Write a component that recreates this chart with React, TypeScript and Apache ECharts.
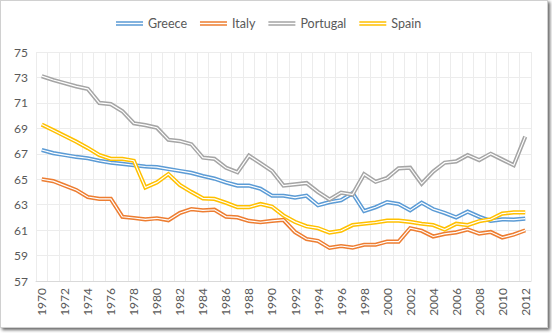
import React, { useEffect, useRef } from "react";
import * as echarts from "echarts";

const years: string[] = [];
for (let y = 1970; y <= 2012; y++) years.push(String(y));

const greece = [67.3, 67.05, 66.9, 66.75, 66.65, 66.45, 66.3, 66.2, 66.1, 66.0, 65.95, 65.8, 65.65, 65.5, 65.25, 65.05, 64.75, 64.5, 64.5, 64.25, 63.7, 63.7, 63.55, 63.7, 62.95, 63.2, 63.35, 63.9, 62.5, 62.8, 63.2, 63.05, 62.55, 63.15, 62.65, 62.35, 62.0, 62.45, 62.05, 61.72, 61.85, 61.82, 61.9];
const italy = [65.0, 64.85, 64.5, 64.15, 63.6, 63.45, 63.45, 62.05, 61.95, 61.85, 61.93, 61.78, 62.35, 62.65, 62.55, 62.6, 62.06, 62.0, 61.72, 61.62, 61.72, 61.8, 60.85, 60.3, 60.15, 59.6, 59.75, 59.62, 59.85, 59.85, 60.1, 60.1, 61.15, 60.95, 60.5, 60.7, 60.82, 61.05, 60.72, 60.85, 60.42, 60.65, 60.98];
const portugal = [73.1, 72.8, 72.55, 72.3, 72.1, 71.0, 70.9, 70.35, 69.4, 69.25, 69.05, 68.1, 68.0, 67.75, 66.7, 66.6, 65.9, 65.55, 66.85, 66.25, 65.65, 64.5, 64.6, 64.7, 64.0, 63.4, 63.95, 63.8, 65.4, 64.8, 65.1, 65.85, 65.9, 64.65, 65.6, 66.3, 66.4, 66.9, 66.5, 67.0, 66.55, 66.1, 68.35];
const spain = [69.3, 68.85, 68.4, 67.95, 67.45, 66.9, 66.6, 66.6, 66.45, 64.35, 64.75, 65.4, 64.55, 64.0, 63.5, 63.45, 63.15, 62.8, 62.8, 63.05, 62.85, 62.15, 61.65, 61.3, 61.15, 60.8, 60.95, 61.4, 61.5, 61.6, 61.75, 61.75, 61.65, 61.5, 61.4, 61.05, 61.5, 61.4, 61.7, 61.85, 62.3, 62.4, 62.4];

const seriesNames = ["Greece", "Italy", "Portugal", "Spain"];
const seriesData = [greece, italy, portugal, spain];
const colors = ["#5B9BD5", "#ED7D31", "#A5A5A5", "#FFC000"];

const FONT = "Lato, 'Open Sans', sans-serif";
const LEGEND_ICON = "path://M0,0H28V1.6H0Z M0,3.2H28V4.8H0Z";

export default function App() {
  const ref = useRef<HTMLDivElement>(null);
  useEffect(() => {
    document.body.style.margin = "0";
    if (!ref.current) return;
    const chart = echarts.init(ref.current, null, { renderer: "svg" });
    const series: any[] = [];
    seriesNames.forEach((name, i) => {
      series.push({
        name,
        type: "line",
        data: seriesData[i],
        symbol: "none",
        lineStyle: { color: colors[i], width: 4.2, cap: "butt", join: "miter" },
        itemStyle: { color: colors[i] },
      });
      series.push({
        name: name + "_inner",
        type: "line",
        data: seriesData[i],
        symbol: "none",
        silent: true,
        lineStyle: { color: "#ffffff", width: 1.2, join: "miter" },
        itemStyle: { color: "#ffffff" },
      });
    });
    chart.setOption({
      animation: false,
      color: colors,
      legend: {
        data: seriesNames.map((n) => ({ name: n, icon: LEGEND_ICON })),
        left: 111,
        top: 12,
        itemWidth: 27,
        itemHeight: 5,
        itemGap: 13,
        textStyle: { color: "#595959", fontSize: 12.5, fontFamily: FONT },
      },
      grid: { left: 36, right: 21, top: 52, bottom: 52, containLabel: false },
      xAxis: {
        type: "category",
        data: years,
        boundaryGap: true,
        axisLine: { lineStyle: { color: "#d9d9d9" } },
        axisTick: { show: false },
        axisLabel: {
          rotate: 90,
          interval: 1,
          color: "#595959",
          fontSize: 12,
          fontFamily: FONT,
          margin: 7,
        },
        splitLine: { show: true, interval: 0, lineStyle: { color: "#ececec" } },
      },
      yAxis: {
        type: "value",
        min: 57,
        max: 75,
        interval: 2,
        axisLine: { show: false },
        axisTick: { show: false },
        axisLabel: { color: "#595959", fontSize: 12, fontFamily: FONT, margin: 8 },
        splitLine: { lineStyle: { color: "#ececec" } },
      },
      series,
    });
    return () => chart.dispose();
  }, []);
  return (
    <div style={{ position: "fixed", left: 0, top: 0, width: 552, height: 333, background: "#fff" }}>
      <div
        style={{
          position: "absolute",
          left: 0,
          top: 0,
          width: 546,
          height: 326,
          border: "1px solid #d0d0d0",
          boxShadow: "2px 2px 3px rgba(0,0,0,0.6)",
          background: "#fff",
        }}
      />
      <div ref={ref} style={{ position: "absolute", left: 0, top: 0, width: 552, height: 333 }} />
    </div>
  );
}
